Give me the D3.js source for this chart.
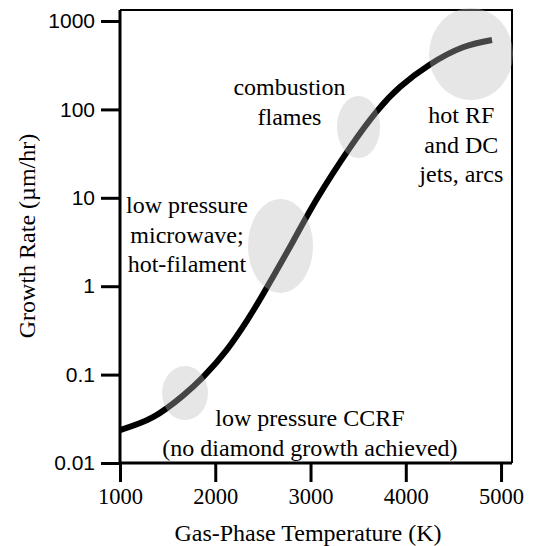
<!DOCTYPE html>
<html>
<head>
<meta charset="utf-8">
<script src="https://cdnjs.cloudflare.com/ajax/libs/d3/7.8.5/d3.min.js"></script>
<style>
  body { margin: 0; background: #fff; }
  svg { display: block; }
</style>
</head>
<body>
<script>
// curve: gas-phase temperature (K) vs growth rate (um/hr)
var temps = [1000, 1346, 1661, 1871, 2123, 2333, 2501, 2816, 3068, 3414, 3698, 3939, 4254, 4601, 4905];
var rates = [0.0236, 0.0330, 0.0579, 0.0935, 0.192, 0.408, 0.812, 3.21, 9.77, 37.0, 95.7, 179, 322, 504, 610];

// operating regions (temperature range, growth-rate range)
var regionNames = ["low pressure CCRF", "low pressure microwave; hot-filament", "combustion flames", "hot RF and DC jets, arcs"];
var regionTMin = [1441, 2344, 3278, 4244];
var regionTMax = [1924, 3026, 3730, 5126];
var regionRMin = [0.0306, 0.84, 28.2, 128];
var regionRMax = [0.125, 9.7, 142, 1400];

// region labels
var labelLines = [
  ["low pressure CCRF", "(no diamond growth achieved)"],
  ["low pressure", "microwave;", "hot-filament"],
  ["combustion", "flames"],
  ["hot RF", "and DC", "jets, arcs"]
];
var labelT = [2994, 1703, 2779, 4583];
var labelR = [0.026, 6.7, 145, 70];

var xTicks = [1000, 2000, 3000, 4000, 5000];
var yTicks = [0.01, 0.1, 1, 10, 100, 1000];

var width = 534,
    height = 546;

var serif = "'Liberation Serif', 'Times New Roman', serif",
    sans = "'Liberation Sans', Arial, sans-serif";

var x = d3.scaleLinear().domain([1000, 5115]).range([120, 512]);
var y = d3.scaleLog().domain([0.01, 1000]).range([463, 21]);
var yTop = 1330;

var svg = d3.select("body").append("svg")
    .attr("width", width)
    .attr("height", height);

// top and right frame
svg.append("path")
    .attr("d", "M" + x(1000) + "," + y(yTop) + "H" + x(5115) + "V" + y(0.01))
    .attr("fill", "none")
    .attr("stroke", "#000")
    .attr("stroke-width", 2);

// the curve
var line = d3.line()
    .x(function(d) { return x(d[0]); })
    .y(function(d) { return y(d[1]); })
    .curve(d3.curveNatural);

svg.append("path")
    .datum(d3.zip(temps, rates))
    .attr("d", line)
    .attr("fill", "none")
    .attr("stroke", "#000")
    .attr("stroke-width", 6);

// translucent region ellipses
svg.append("g")
    .selectAll("ellipse")
    .data(regionNames)
    .enter().append("ellipse")
    .attr("cx", function(d, i) { return (x(regionTMin[i]) + x(regionTMax[i])) / 2; })
    .attr("cy", function(d, i) { return (y(regionRMin[i]) + y(regionRMax[i])) / 2; })
    .attr("rx", function(d, i) { return (x(regionTMax[i]) - x(regionTMin[i])) / 2; })
    .attr("ry", function(d, i) { return (y(regionRMin[i]) - y(regionRMax[i])) / 2; })
    .attr("fill", "#bcbcbc")
    .attr("fill-opacity", 0.37);

// region labels
svg.append("g")
    .selectAll("text")
    .data(labelLines)
    .enter().append("text")
    .style("font-family", serif)
    .style("font-size", "24px")
    .attr("text-anchor", "middle")
    .attr("transform", function(d, i) { return "translate(" + x(labelT[i]) + "," + y(labelR[i]) + ")"; })
    .selectAll("tspan")
    .data(function(d) { return d; })
    .enter().append("tspan")
    .attr("x", 0)
    .attr("y", function(d, j) { return j * 29.5; })
    .text(function(d) { return d; });

// axes
var xAxis = svg.append("g")
    .attr("transform", "translate(0," + y(0.01) + ")")
    .call(d3.axisBottom(x).tickValues(xTicks).tickFormat(d3.format("d")).tickSize(19).tickPadding(6));

xAxis.select(".domain")
    .attr("d", "M" + x(1000) + ",0H" + x(5115))
    .attr("stroke-width", 3);
xAxis.selectAll(".tick line").attr("stroke-width", 3);
xAxis.selectAll("text")
    .style("font-family", serif)
    .style("font-size", "22.5px")
    .attr("fill", "#000");

var yAxis = svg.append("g")
    .attr("transform", "translate(" + x(1000) + ",0)")
    .call(d3.axisLeft(y).tickValues(yTicks).tickFormat(function(d) { return String(d); }).tickSize(19).tickPadding(6));

yAxis.select(".domain")
    .attr("d", "M0," + y(0.01) + "V" + y(yTop))
    .attr("stroke-width", 3);
yAxis.selectAll(".tick line").attr("stroke-width", 3);
yAxis.selectAll("text")
    .style("font-family", sans)
    .style("font-size", "21px")
    .attr("fill", "#000");

// axis titles
svg.append("text")
    .style("font-family", serif)
    .style("font-size", "24px")
    .attr("text-anchor", "middle")
    .attr("x", 308)
    .attr("y", 541)
    .text("Gas-Phase Temperature (K)");

svg.append("text")
    .style("font-family", serif)
    .style("font-size", "24px")
    .attr("text-anchor", "middle")
    .attr("transform", "translate(35,236) rotate(-90)")
    .text("Growth Rate (\u00b5m/hr)");
</script>
</body>
</html>
